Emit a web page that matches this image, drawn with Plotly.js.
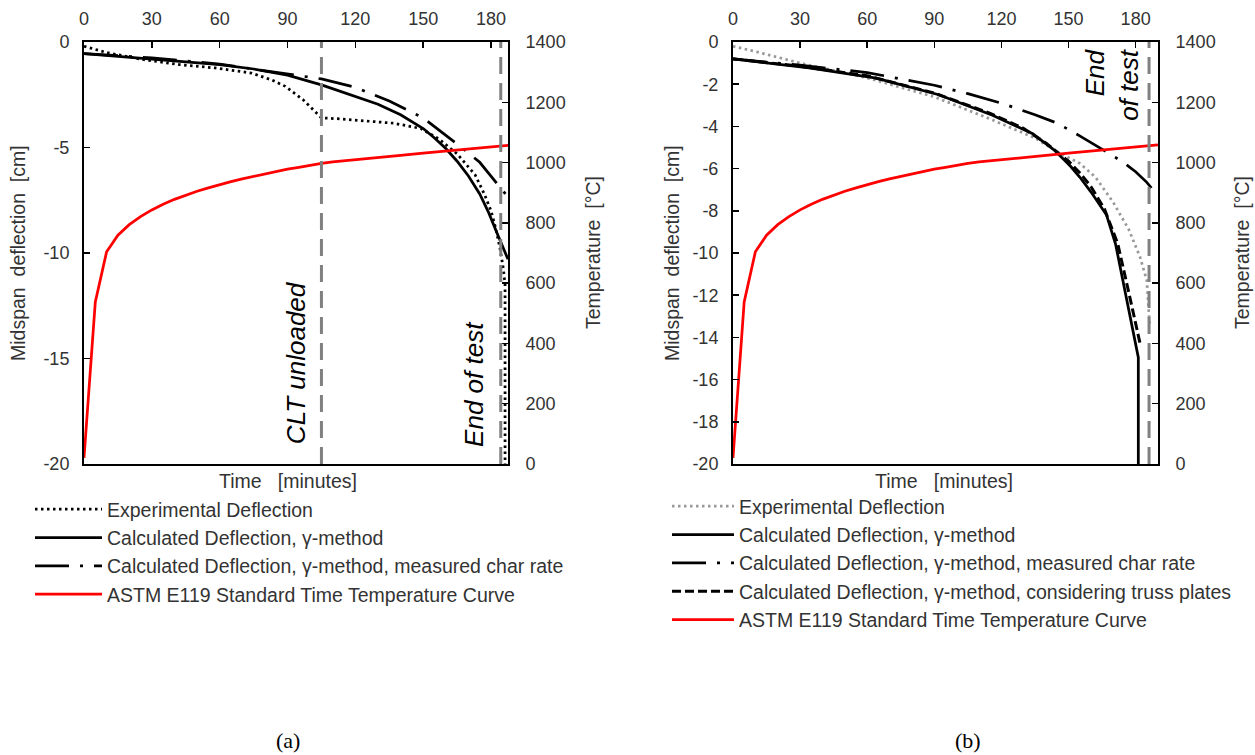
<!DOCTYPE html>
<html>
<head>
<meta charset="utf-8">
<script src="https://cdn.plot.ly/plotly-3.0.1.min.js"></script>
<style>
  html, body { margin: 0; padding: 0; background: #fff; }
  #chart { width: 1255px; height: 755px; }
</style>
</head>
<body>
<div id="chart"></div>
<script>
// ASTM E119 standard time-temperature curve (min, °C)
const astmTime = [0, 5, 10, 15, 20, 25, 30, 35, 40, 45, 50, 55, 60, 65, 70, 75, 80, 85, 90, 95, 100, 105, 110, 115, 120, 130, 140, 150, 160, 170, 180, 190];
const astmTemp = [20, 538, 704, 759, 794, 821, 843, 862, 878, 892, 905, 916, 927, 937, 946, 954, 963, 971, 978, 984, 991, 997, 1002, 1006, 1010, 1017, 1024, 1031, 1038, 1045, 1052, 1059];

// Panel (a): midspan deflection (cm) against time (min)
const expATime = [0, 10, 26, 42, 58, 74, 83, 89, 97, 102, 105, 113, 121, 137, 149, 157, 165, 173, 177, 180, 182, 184, 185.5, 186.2, 186.2];
const expADefl = [-0.2, -0.5, -0.83, -1.07, -1.23, -1.47, -1.8, -2.1, -2.75, -3.3, -3.6, -3.64, -3.7, -3.85, -4.1, -4.6, -5.3, -6.3, -7.2, -8.0, -8.8, -9.8, -10.8, -11.5, -20];
const calcATime = [0, 15, 30, 45, 60, 75, 90, 105, 120, 130, 140, 150, 155, 160, 165, 170, 175, 179, 183, 187.5];
const calcADefl = [-0.55, -0.68, -0.8, -0.93, -1.07, -1.28, -1.57, -2.03, -2.57, -2.95, -3.45, -4.1, -4.55, -5.05, -5.65, -6.35, -7.2, -8.1, -9.15, -10.3];
const charATime = [0, 30, 60, 90, 105, 120, 135, 150, 160, 167, 175, 180, 186, 187.5];
const charADefl = [-0.55, -0.75, -1.05, -1.5, -1.75, -2.15, -2.8, -3.6, -4.4, -5.0, -5.7, -6.35, -7.15, -7.35];

// Panel (b): midspan deflection (cm) against time (min)
const expBTime = [0, 10, 30, 60, 90, 115, 135, 145, 155, 162, 170, 177, 182, 185, 186.3];
const expBDefl = [-0.2, -0.45, -1.0, -1.7, -2.6, -3.65, -4.55, -5.2, -5.75, -6.4, -7.6, -8.9, -10.2, -11.3, -13.5];
const calcBTime = [0, 15, 34, 64, 92, 116, 134, 144, 151, 155, 160, 167, 171, 181.2, 181.2];
const calcBDefl = [-0.8, -1.0, -1.23, -1.71, -2.5, -3.47, -4.35, -5.15, -5.9, -6.4, -7.1, -8.2, -9.56, -14.95, -20];
const charBTime = [0, 30, 60, 75, 90, 105, 120, 135, 145, 155, 163, 170, 175, 180, 185, 190];
const charBDefl = [-0.8, -1.1, -1.45, -1.75, -2.05, -2.45, -2.9, -3.45, -3.85, -4.45, -4.95, -5.4, -5.75, -6.15, -6.65, -7.3];
const trussBTime = [0, 15, 30, 60, 90, 115, 130, 140, 150, 155, 160, 166, 172, 177, 182];
const trussBDefl = [-0.8, -0.98, -1.15, -1.6, -2.42, -3.38, -4.1, -4.8, -5.65, -6.2, -6.85, -7.9, -9.56, -11.9, -14.3];

// Axis ticks
const timeTicks = [0, 30, 60, 90, 120, 150, 180];
const deflTicksA = [-20, -15, -10, -5, 0];
const deflTicksB = [-20, -18, -16, -14, -12, -10, -8, -6, -4, -2, 0];
const tempTicks = [0, 200, 400, 600, 800, 1000, 1200, 1400];

// Event markers (min)
const unloadTimeA = 105;
const endTimeA = 184.3;
const endTimeB = 186;

const seriesNames = [
  'Experimental Deflection',
  'Calculated Deflection, γ-method',
  'Calculated Deflection, γ-method, measured char rate',
  'Calculated Deflection, γ-method, considering truss plates',
  'ASTM E119 Standard Time Temperature Curve'
];

const FONT = 'Liberation Sans, Arial, sans-serif';
const TXT = '#333333';
const LW = 2.75;

const dotStyle = '2.5px,3.5px';
const dashDotStyle = '34px,11px,3px,11px';
const dashStyle = '9px,4px';

function tr(x, y, name, xa, ya, lg, line) {
  return {
    type: 'scatter', mode: 'lines', x: x, y: y, name: name,
    xaxis: xa, yaxis: ya, legend: lg,
    line: Object.assign({width: LW}, line), hoverinfo: 'skip'
  };
}

const traces = [
  tr(expATime, expADefl, seriesNames[0], 'x', 'y', 'legend', {color: '#000', dash: dotStyle}),
  tr(calcATime, calcADefl, seriesNames[1], 'x', 'y', 'legend', {color: '#000'}),
  tr(charATime, charADefl, seriesNames[2], 'x', 'y', 'legend', {color: '#000', dash: dashDotStyle}),
  tr(astmTime, astmTemp, seriesNames[4], 'x', 'y3', 'legend', {color: '#ff0000'}),

  tr(expBTime, expBDefl, seriesNames[0], 'x2', 'y2', 'legend2', {color: '#999999', dash: dotStyle}),
  tr(calcBTime, calcBDefl, seriesNames[1], 'x2', 'y2', 'legend2', {color: '#000'}),
  tr(charBTime, charBDefl, seriesNames[2], 'x2', 'y2', 'legend2', {color: '#000', dash: dashDotStyle}),
  tr(trussBTime, trussBDefl, seriesNames[3], 'x2', 'y2', 'legend2', {color: '#000', dash: dashStyle, width: 3}),
  tr(astmTime, astmTemp, seriesNames[4], 'x2', 'y4', 'legend2', {color: '#ff0000'})
];

const W = 1255, H = 755;
const px = v => v / W;
const py = v => 1 - v / H;

const yDom = [py(464), py(42)];
const xDomA = [px(84), px(508)];
const xDomB = [px(733), px(1158)];

const tickFont = {family: FONT, size: 18, color: TXT};
const tickCommon = {
  ticks: 'inside', ticklen: 6, tickwidth: 1.5, tickcolor: '#000',
  showline: true, linewidth: 2, linecolor: '#000',
  showgrid: false, zeroline: false, tickfont: tickFont, fixedrange: true
};

function xAxis(domain, range, anchor) {
  return Object.assign({
    domain: domain, range: range, anchor: anchor, side: 'top', mirror: true,
    tickmode: 'array', tickvals: timeTicks, ticktext: timeTicks.map(String),
    ticklabelstandoff: 8
  }, tickCommon);
}
function yLeft(ticks, anchor) {
  return Object.assign({
    domain: yDom, range: [-20, 0], anchor: anchor, side: 'left',
    tickmode: 'array', tickvals: ticks, ticktext: ticks.map(String),
    ticklabelstandoff: 9
  }, tickCommon);
}
function yRight(overlay, anchor) {
  return Object.assign({
    overlaying: overlay, anchor: anchor, side: 'right', range: [0, 1400],
    tickmode: 'array', tickvals: tempTicks, ticktext: tempTicks.map(String),
    ticklabelstandoff: 12
  }, tickCommon);
}

function vline(xref, yref, x) {
  return {
    type: 'line', xref: xref, yref: yref, x0: x, x1: x, y0: -20, y1: 0,
    line: {color: '#808080', width: 3, dash: '17px,9px'}, layer: 'above'
  };
}

function label(text, x, y, angle, size, extra) {
  return Object.assign({
    text: text, xref: 'paper', yref: 'paper', x: x, y: y,
    textangle: angle, showarrow: false, xanchor: 'center', yanchor: 'middle',
    font: {family: FONT, size: size, color: TXT}
  }, extra || {});
}

const yMid = (yDom[0] + yDom[1]) / 2;
const capFont = {family: 'Liberation Serif, Times New Roman, serif', size: 22, color: '#000'};
const noteFont = {family: FONT, size: 26, color: '#000'};

const annotations = [
  label('Midspan&nbsp; deflection&nbsp; [cm]', px(18), yMid, -90, 19.5),
  label('Midspan&nbsp; deflection&nbsp; [cm]', px(672), yMid, -90, 19.5),
  label('Temperature&nbsp; [°C]', px(593), yMid, -90, 19.5),
  label('Temperature&nbsp; [°C]', px(1242), yMid, -90, 19.5),
  label('Time&nbsp;&nbsp; [minutes]', px(288), py(481), 0, 19.5),
  label('Time&nbsp;&nbsp; [minutes]', px(944), py(481), 0, 19.5),
  label('(a)', px(288), py(740), 0, 22, {font: capFont}),
  label('(b)', px(968), py(740), 0, 22, {font: capFont}),
  {text: '<i>CLT unloaded</i>', xref: 'x', yref: 'y', x: 93.5, y: -15.2, textangle: -90,
   showarrow: false, xanchor: 'center', yanchor: 'middle', font: noteFont},
  {text: '<i>End of test</i>', xref: 'x', yref: 'y', x: 172.5, y: -16.2, textangle: -90,
   showarrow: false, xanchor: 'center', yanchor: 'middle', font: noteFont},
  {text: '<i>End<br>of test</i>', xref: 'x2', yref: 'y2', x: 169.5, y: -0.2, textangle: -90, align: 'right',
   showarrow: false, xanchor: 'center', yanchor: 'top', font: noteFont}
];

const legendBase = {
  xanchor: 'left', yanchor: 'top', bgcolor: 'rgba(0,0,0,0)', borderwidth: 0,
  font: {family: FONT, size: 19.5, color: TXT}, traceorder: 'normal',
  itemclick: false, itemdoubleclick: false
};

const layout = {
  width: W, height: H, autosize: false,
  margin: {l: 0, r: 0, t: 0, b: 0},
  paper_bgcolor: '#fff', plot_bgcolor: '#fff',
  showlegend: true,
  xaxis: xAxis(xDomA, [0, 187.5], 'y'),
  yaxis: yLeft(deflTicksA, 'x'),
  yaxis3: yRight('y', 'x'),
  xaxis2: xAxis(xDomB, [0, 190], 'y2'),
  yaxis2: yLeft(deflTicksB, 'x2'),
  yaxis4: yRight('y2', 'x2'),
  legend: Object.assign({x: px(30), y: py(490), itemwidth: 67}, legendBase),
  legend2: Object.assign({x: px(667), y: py(487), itemwidth: 62}, legendBase),
  shapes: [
    vline('x', 'y', unloadTimeA),
    vline('x', 'y', endTimeA),
    vline('x2', 'y2', endTimeB)
  ],
  annotations: annotations
};

Plotly.newPlot('chart', traces, layout, {displayModeBar: false, staticPlot: true});
</script>
</body>
</html>
